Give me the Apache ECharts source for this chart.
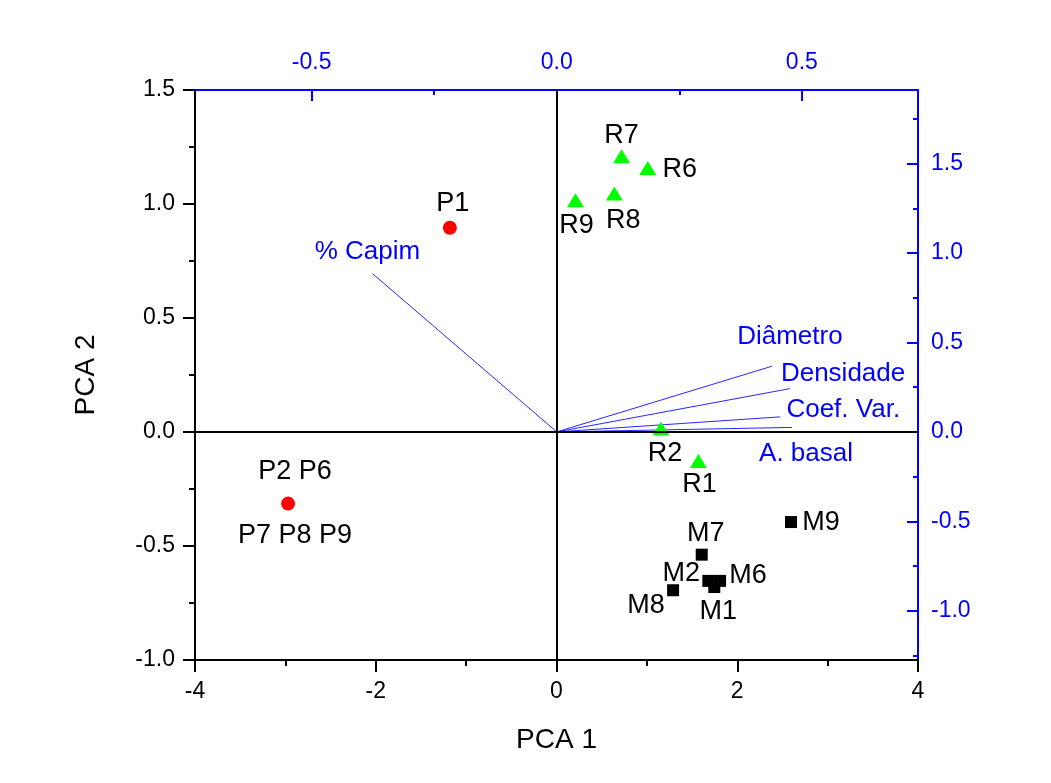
<!DOCTYPE html>
<html>
<head>
<meta charset="utf-8">
<script src="https://cdn.jsdelivr.net/npm/echarts@6/dist/echarts.min.js"></script>
<style>
html,body{margin:0;padding:0;background:#fff;}
#chart{width:1051px;height:783px;}
</style>
</head>
<body>
<div id="chart"></div>
<script>
// ---- Data ----
const pNames = ['P1', 'P2 P6 P7 P8 P9'];
const pPC1 = [-1.18, -2.97];
const pPC2 = [0.896, -0.314];

const rNames = ['R1', 'R2', 'R6', 'R7', 'R8', 'R9'];
const rPC1 = [1.57, 1.156, 1.01, 0.72, 0.64, 0.21];
const rPC2 = [-0.127, 0.015, 1.158, 1.209, 1.046, 1.016];

const mNames = ['M1', 'M2', 'M6', 'M7', 'M8', 'M9'];
const mPC1 = [1.746, 1.68, 1.81, 1.607, 1.29, 2.595];
const mPC2 = [-0.680, -0.653, -0.653, -0.538, -0.694, -0.395];

const vecNames = ['% Capim', 'Diâmetro', 'Densidade', 'Coef. Var.', 'A. basal'];
const vecL1 = [-0.376, 0.439, 0.476, 0.456, 0.480];
const vecL2 = [0.885, 0.367, 0.242, 0.084, 0.025];

const topTicks = [-0.5, 0.0, 0.5];
const topMinor = [-0.25, 0.25];
const rightTicks = [-1.0, -0.5, 0.0, 0.5, 1.0, 1.5];
const rightMinor = [-1.25, -0.75, -0.25, 0.25, 0.75, 1.25, 1.75];

// ---- Label placement (style) ----
const labelOffset = {
  'P1': [3, -24], 'P2 P6 P7 P8 P9': [7, 0],
  'R1': [1, 24], 'R2': [4, 25], 'R6': [32, 2], 'R7': [0, -21], 'R8': [9, 27], 'R9': [1, 25],
  'M1': [4, 25], 'M2': [-27, -7], 'M6': [28, -5], 'M7': [4, -21], 'M8': [-27, 15], 'M9': [30, 0],
  '% Capim': [-5, -22], 'Diâmetro': [18, -29], 'Densidade': [53, -15], 'Coef. Var.': [63, -7], 'A. basal': [14, 26]
};

const FONT = 'Liberation Sans, Arial, sans-serif';
const BLUE = '#0000ff';

function pts(names, a, b) {
  return names.map((n, i) => ({
    name: n, value: [a[i], b[i]],
    label: { offset: labelOffset[n] }
  }));
}

const pointLabel = {
  show: true, position: 'inside', color: '#000', fontFamily: FONT, fontSize: 27,
  align: 'center', verticalAlign: 'middle', textBorderWidth: 0,
  formatter: p => p.name === 'P2 P6 P7 P8 P9' ? 'P2 P6\n\nP7 P8 P9' : p.name
};

const chart = echarts.init(document.getElementById('chart'), null, { renderer: 'canvas' });
const fmt1 = v => Number(v).toFixed(1);

chart.setOption({
  backgroundColor: '#ffffff',
  animation: false,
  grid: { left: 195, right: 133, top: 90, bottom: 123, containLabel: false },
  xAxis: [
    { // bottom PCA1
      type: 'value', position: 'bottom', min: -4, max: 4, interval: 2,
      name: 'PCA 1', nameLocation: 'middle', nameGap: 66,
      nameTextStyle: { fontFamily: FONT, fontSize: 28, color: '#000' },
      axisLine: { show: true, onZero: false, lineStyle: { color: '#000', width: 2 } },
      axisTick: { show: true, inside: false, length: 12, lineStyle: { color: '#000', width: 2 } },
      minorTick: { show: true, splitNumber: 2, length: 6, lineStyle: { color: '#000', width: 2 } },
      axisLabel: { color: '#000', fontFamily: FONT, fontSize: 23, margin: 20 },
      splitLine: { show: false }
    },
    { // top loadings
      type: 'value', position: 'top', min: -0.738, max: 0.737,
      axisLine: { show: true, onZero: false, lineStyle: { color: BLUE, width: 2 } },
      axisTick: { show: true, inside: true, length: 11, customValues: topTicks, lineStyle: { color: BLUE, width: 2 } },
      axisLabel: { color: BLUE, fontFamily: FONT, fontSize: 23, margin: 16, customValues: topTicks, formatter: fmt1 },
      splitLine: { show: false }
    },
    { // top minor ticks
      type: 'value', position: 'top', min: -0.738, max: 0.737,
      axisLine: { show: false, onZero: false },
      axisTick: { show: true, inside: true, length: 5, customValues: topMinor, lineStyle: { color: BLUE, width: 2 } },
      axisLabel: { show: false },
      splitLine: { show: false }
    }
  ],
  yAxis: [
    { // left PCA2
      type: 'value', position: 'left', min: -1, max: 1.5, interval: 0.5,
      name: 'PCA 2', nameLocation: 'middle', nameGap: 95, nameRotate: 90,
      nameTextStyle: { fontFamily: FONT, fontSize: 28, color: '#000' },
      axisLine: { show: true, onZero: false, lineStyle: { color: '#000', width: 2 } },
      axisTick: { show: true, inside: false, length: 12, lineStyle: { color: '#000', width: 2 } },
      minorTick: { show: true, splitNumber: 2, length: 6, lineStyle: { color: '#000', width: 2 } },
      axisLabel: { color: '#000', fontFamily: FONT, fontSize: 23, margin: 20, formatter: fmt1 },
      splitLine: { show: false }
    },
    { // right loadings
      type: 'value', position: 'right', min: -1.275, max: 1.911,
      axisLine: { show: true, onZero: false, lineStyle: { color: BLUE, width: 2 } },
      axisTick: { show: true, inside: true, length: 11, customValues: rightTicks, lineStyle: { color: BLUE, width: 2 } },
      axisLabel: { color: BLUE, fontFamily: FONT, fontSize: 23, margin: 13, customValues: rightTicks, formatter: fmt1 },
      splitLine: { show: false }
    },
    { // right minor ticks
      type: 'value', position: 'right', min: -1.275, max: 1.911,
      axisLine: { show: false, onZero: false },
      axisTick: { show: true, inside: true, length: 5, customValues: rightMinor, lineStyle: { color: BLUE, width: 2 } },
      axisLabel: { show: false },
      splitLine: { show: false }
    }
  ],
  series: [
    { // zero lines
      type: 'scatter', xAxisIndex: 0, yAxisIndex: 0, data: [], silent: true,
      markLine: {
        silent: true, symbol: ['none', 'none'], animation: false,
        label: { show: false },
        lineStyle: { color: '#000', width: 2, type: 'solid', opacity: 1 },
        data: [{ xAxis: 0 }, { yAxis: 0 }]
      }
    },
    { // loading vectors
      type: 'lines', coordinateSystem: 'cartesian2d', xAxisIndex: 1, yAxisIndex: 1,
      silent: true, polyline: false,
      lineStyle: { color: BLUE, width: 1, opacity: 0.85 },
      data: vecNames.map((n, i) => ({ coords: [[0, 0], [vecL1[i], vecL2[i]]] }))
    },
    { // loading labels
      type: 'scatter', xAxisIndex: 1, yAxisIndex: 1, silent: true,
      symbolSize: 0.1, itemStyle: { color: 'rgba(0,0,0,0)', opacity: 1 },
      label: { show: true, position: 'inside', color: BLUE, fontFamily: FONT, fontSize: 26,
               align: 'center', verticalAlign: 'middle', textBorderWidth: 0, formatter: p => p.name },
      data: pts(vecNames, vecL1, vecL2)
    },
    {
      name: 'P', type: 'scatter', xAxisIndex: 0, yAxisIndex: 0,
      symbol: 'circle', symbolSize: 14, itemStyle: { color: '#ff0000', opacity: 1 },
      label: Object.assign({}, pointLabel, { lineHeight: 32 }),
      data: pts(pNames, pPC1, pPC2)
    },
    {
      name: 'R', type: 'scatter', xAxisIndex: 0, yAxisIndex: 0,
      symbol: 'triangle', symbolSize: [17, 14], itemStyle: { color: '#00ff00', opacity: 1 },
      label: pointLabel,
      data: pts(rNames, rPC1, rPC2)
    },
    {
      name: 'M', type: 'scatter', xAxisIndex: 0, yAxisIndex: 0,
      symbol: 'rect', symbolSize: 12, itemStyle: { color: '#000000', opacity: 1 },
      label: pointLabel,
      data: pts(mNames, mPC1, mPC2)
    }
  ]
});
</script>
</body>
</html>
